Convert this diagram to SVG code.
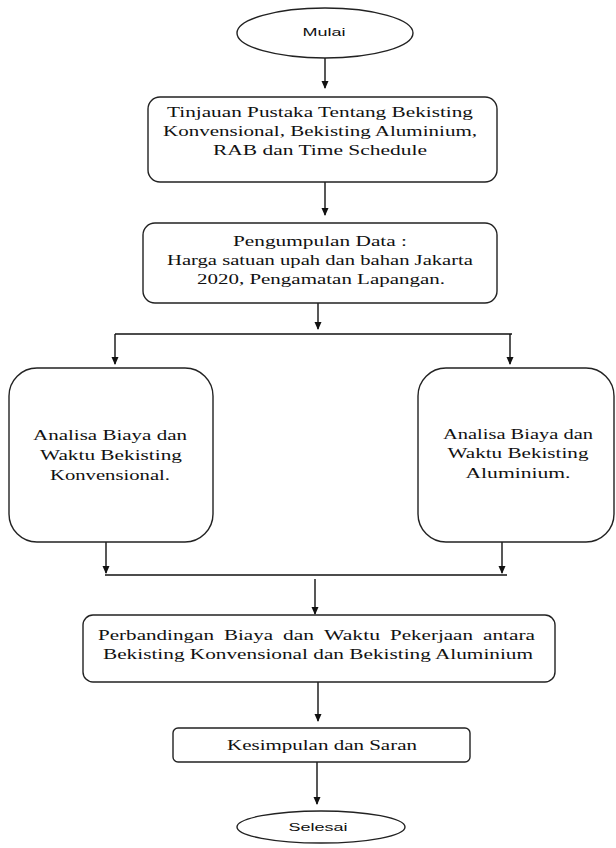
<svg xmlns="http://www.w3.org/2000/svg" width="616" height="848" viewBox="0 0 616 848">
<defs>
<marker id="ah" markerWidth="8" markerHeight="8" refX="7" refY="4" orient="auto" markerUnits="userSpaceOnUse">
<path d="M0,0.5 L8,4 L0,7.5 Z" fill="#111"/>
</marker>
<style>
.n{fill:#fff;stroke:#222;stroke-width:1.4}
.t{font-family:"Liberation Serif","Times New Roman",serif;font-size:15px;fill:#111;text-anchor:middle}
.w{font-family:"Liberation Serif","Times New Roman",serif;font-size:15px;fill:#111;text-anchor:start}
.s{font-family:"Liberation Sans",Arial,sans-serif;font-size:11px;fill:#111;text-anchor:middle}
.c{fill:none;stroke:#111;stroke-width:1.4}
</style>
</defs>
<rect width="616" height="848" fill="#fff"/>
<g id="connectors">
<line class="c" x1="325" y1="58" x2="325" y2="88" marker-end="url(#ah)"/>
<line class="c" x1="325" y1="182" x2="325" y2="215" marker-end="url(#ah)"/>
<line class="c" x1="318" y1="303" x2="318" y2="329" marker-end="url(#ah)"/>
<line class="c" x1="115" y1="334" x2="512" y2="334"/>
<line class="c" x1="115" y1="334" x2="115" y2="364" marker-end="url(#ah)"/>
<line class="c" x1="510" y1="334" x2="510" y2="364" marker-end="url(#ah)"/>
<line class="c" x1="106" y1="542" x2="106" y2="573" marker-end="url(#ah)"/>
<line class="c" x1="502" y1="542" x2="502" y2="573" marker-end="url(#ah)"/>
<line class="c" x1="105" y1="575" x2="507" y2="575"/>
<line class="c" x1="315" y1="579" x2="315" y2="614" marker-end="url(#ah)"/>
<line class="c" x1="318" y1="682" x2="318" y2="721" marker-end="url(#ah)"/>
<line class="c" x1="317" y1="762" x2="317" y2="804" marker-end="url(#ah)"/>
</g>
<g id="mulai">
<ellipse class="n" cx="325" cy="33" rx="88" ry="25"/>
<text class="s" x="324" y="36" textLength="43" lengthAdjust="spacingAndGlyphs">Mulai</text>
</g>
<g id="tinjauan">
<rect class="n" x="148" y="97" width="349" height="85" rx="12"/>
<text class="t" x="320" y="117" textLength="306" lengthAdjust="spacingAndGlyphs">Tinjauan Pustaka Tentang Bekisting</text>
<text class="t" x="320" y="136" textLength="314" lengthAdjust="spacingAndGlyphs">Konvensional, Bekisting Aluminium,</text>
<text class="t" x="320" y="155" textLength="214" lengthAdjust="spacingAndGlyphs">RAB dan Time Schedule</text>
</g>
<g id="pengumpulan">
<rect class="n" x="143" y="223" width="354" height="80" rx="12"/>
<text class="t" x="320" y="246" textLength="174" lengthAdjust="spacingAndGlyphs">Pengumpulan Data :</text>
<text class="t" x="320" y="265" textLength="306" lengthAdjust="spacingAndGlyphs">Harga satuan upah dan bahan Jakarta</text>
<text class="t" x="321" y="284" textLength="248" lengthAdjust="spacingAndGlyphs">2020, Pengamatan Lapangan.</text>
</g>
<g id="analisa-konvensional">
<rect class="n" x="9" y="368" width="204" height="174" rx="28"/>
<text class="t" x="110" y="440" textLength="154" lengthAdjust="spacingAndGlyphs">Analisa Biaya dan</text>
<text class="t" x="111" y="460" textLength="142" lengthAdjust="spacingAndGlyphs">Waktu Bekisting</text>
<text class="t" x="110" y="480" textLength="120" lengthAdjust="spacingAndGlyphs">Konvensional.</text>
</g>
<g id="analisa-aluminium">
<rect class="n" x="418" y="368" width="196" height="174" rx="28"/>
<text class="t" x="518" y="439" textLength="150" lengthAdjust="spacingAndGlyphs">Analisa Biaya dan</text>
<text class="t" x="518" y="458" textLength="141" lengthAdjust="spacingAndGlyphs">Waktu Bekisting</text>
<text class="t" x="518" y="478" textLength="105" lengthAdjust="spacingAndGlyphs">Aluminium.</text>
</g>
<g id="perbandingan">
<rect class="n" x="83" y="615" width="472" height="67" rx="10"/>
<text class="w" y="640"><tspan x="98" textLength="116" lengthAdjust="spacingAndGlyphs">Perbandingan</tspan><tspan x="224" textLength="49" lengthAdjust="spacingAndGlyphs">Biaya</tspan><tspan x="283" textLength="31" lengthAdjust="spacingAndGlyphs">dan</tspan><tspan x="324" textLength="56" lengthAdjust="spacingAndGlyphs">Waktu</tspan><tspan x="390" textLength="83" lengthAdjust="spacingAndGlyphs">Pekerjaan</tspan><tspan x="483" textLength="52" lengthAdjust="spacingAndGlyphs">antara</tspan></text>
<text class="t" x="318" y="659" textLength="430" lengthAdjust="spacingAndGlyphs">Bekisting Konvensional dan Bekisting Aluminium</text>
</g>
<g id="kesimpulan">
<rect class="n" x="173" y="728" width="297" height="34" rx="5"/>
<text class="t" x="322" y="750" textLength="190" lengthAdjust="spacingAndGlyphs">Kesimpulan dan Saran</text>
</g>
<g id="selesai">
<ellipse class="n" cx="321" cy="827" rx="84" ry="16"/>
<text class="s" x="318" y="831" textLength="59" lengthAdjust="spacingAndGlyphs">Selesai</text>
</g>
</svg>
